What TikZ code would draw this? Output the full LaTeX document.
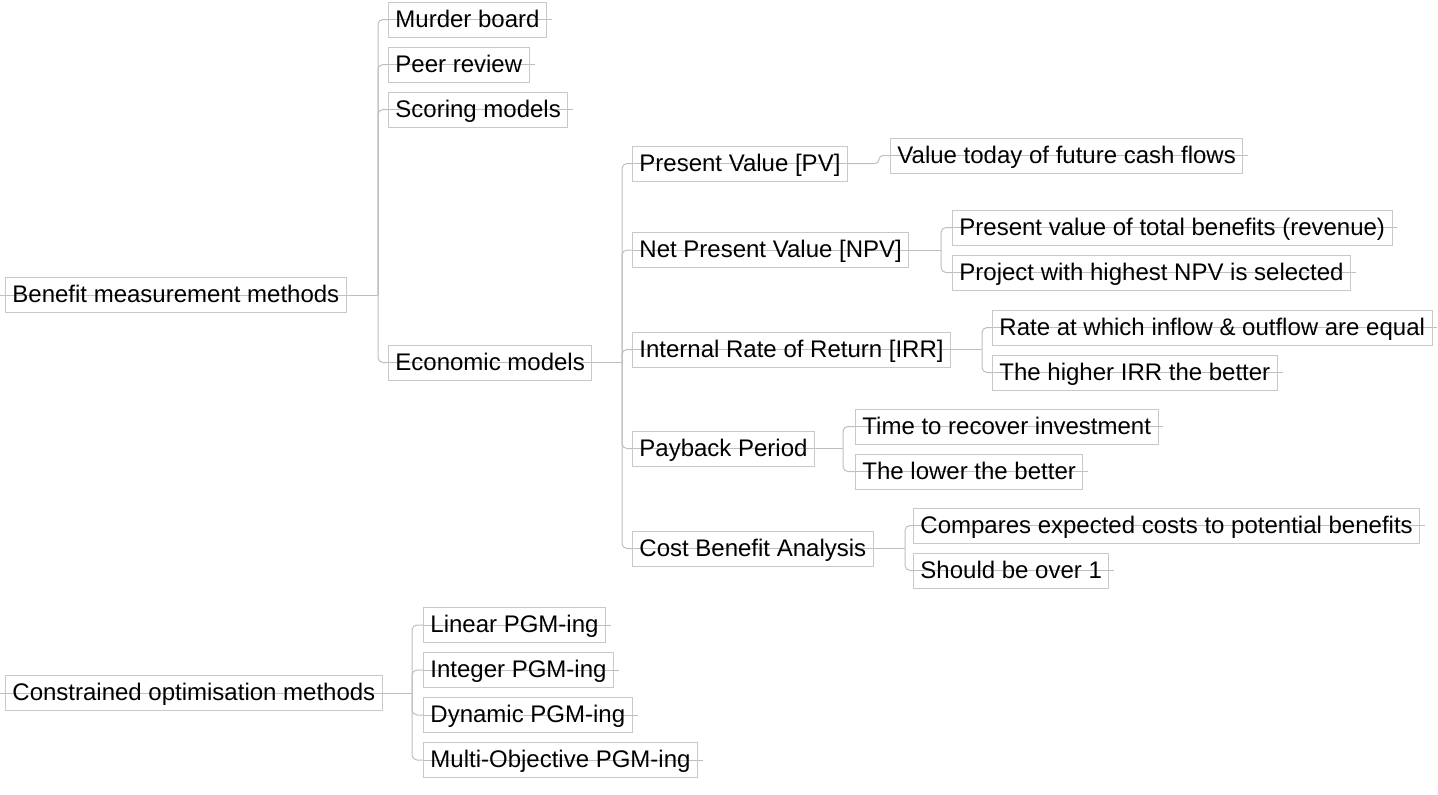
\documentclass[tikz,border=0pt]{standalone}
\usepackage{fontspec}
\setmainfont{Liberation Sans}
\usetikzlibrary{backgrounds}
\definecolor{boxgray}{HTML}{C8C8C8}
\definecolor{linegray}{HTML}{BEBEBE}
\tikzset{
  topic/.style={draw=boxgray, line width=0.9pt, anchor=west, inner xsep=7pt,
    inner ysep=7.75pt, text height=17.5pt, text depth=2pt,
    font=\fontsize{24}{28}\selectfont, text=black},
  conn/.style={draw=linegray, line width=1pt, rounded corners=5pt},
  through/.style={draw=linegray, line width=1pt}
}
\begin{document}
\begin{tikzpicture}[x=1pt,y=-1pt]
\useasboundingbox (0,0) rectangle (1438,795);
% nodes
\node[topic] (root1) at (5,295) {Benefit measurement methods};
\node[topic] (murder) at (388,19.5) {Murder board};
\node[topic] (peer) at (388,64.5) {Peer review};
\node[topic] (scoring) at (388,109.5) {Scoring models};
\node[topic] (econ) at (388,362.5) {Economic models};
\node[topic] (pv) at (632,163.5) {Present Value [PV]};
\node[topic] (npv) at (632,250) {Net Present Value [NPV]};
\node[topic] (irr) at (632,349.5) {Internal Rate of Return [IRR]};
\node[topic] (pay) at (632,448.5) {Payback Period};
\node[topic] (cba) at (632,548.5) {Cost Benefit Analysis};
\node[topic] (vt) at (890,155.5) {Value today of future cash flows};
\node[topic] (pvb) at (952,227.5) {Present value of total benefits (revenue)};
\node[topic] (proj) at (952,272.5) {Project with highest NPV is selected};
\node[topic] (rate) at (992,327.5) {Rate at which inflow \& outflow are equal};
\node[topic] (higher) at (992,372.5) {The higher IRR the better};
\node[topic] (time) at (855,426.5) {Time to recover investment};
\node[topic] (lower) at (855,471.5) {The lower the better};
\node[topic] (comp) at (913,525.5) {Compares expected costs to potential benefits};
\node[topic] (should) at (913,570.5) {Should be over 1};
\node[topic] (root2) at (5,693) {Constrained optimisation methods};
\node[topic] (lin) at (423,625) {Linear PGM-ing};
\node[topic] (int) at (423,670) {Integer PGM-ing};
\node[topic] (dyn) at (423,715) {Dynamic PGM-ing};
\node[topic] (multi) at (423,760) {Multi-Objective PGM-ing};
% trunk coordinates
\coordinate (t1) at (378,0);
\coordinate (t2) at (622,0);
\coordinate (tpv) at (879,0);
\coordinate (tnpv) at (941,0);
\coordinate (tirr) at (982,0);
\coordinate (tpay) at (843,0);
\coordinate (tcba) at (905,0);
\coordinate (t3) at (412,0);
\begin{scope}[on background layer]
% through lines
\foreach \n in {murder,peer,scoring,econ,pv,npv,irr,pay,cba,vt,pvb,proj,rate,higher,time,lower,comp,should,lin,int,dyn,multi}
  \draw[through] (\n.west) -- ([xshift=5pt]\n.east);
\draw[through] ([xshift=-5pt]root1.west) -- (root1.east);
\draw[through] ([xshift=-5pt]root2.west) -- (root2.east);
% root1 -> children
\draw[through] (root1.east) -- (root1.east -| t1);
\foreach \c in {murder,peer,scoring,econ}
  \draw[conn] (root1.east -| t1) |- (\c.west);
% econ -> children
\draw[through] (econ.east) -- (econ.east -| t2);
\foreach \c in {pv,npv,irr,pay,cba}
  \draw[conn] (econ.east -| t2) |- (\c.west);
% pv -> vt
\draw[conn, rounded corners=4pt] (pv.east) -- (pv.east -| tpv) |- (vt.west);
% npv
\draw[through] (npv.east) -- (npv.east -| tnpv);
\foreach \c in {pvb,proj}
  \draw[conn] (npv.east -| tnpv) |- (\c.west);
% irr
\draw[through] (irr.east) -- (irr.east -| tirr);
\foreach \c in {rate,higher}
  \draw[conn] (irr.east -| tirr) |- (\c.west);
% payback
\draw[through] (pay.east) -- (pay.east -| tpay);
\foreach \c in {time,lower}
  \draw[conn] (pay.east -| tpay) |- (\c.west);
% cba
\draw[through] (cba.east) -- (cba.east -| tcba);
\foreach \c in {comp,should}
  \draw[conn] (cba.east -| tcba) |- (\c.west);
% root2
\draw[through] (root2.east) -- (root2.east -| t3);
\foreach \c in {lin,int,dyn,multi}
  \draw[conn] (root2.east -| t3) |- (\c.west);
\end{scope}
\end{tikzpicture}
\end{document}
